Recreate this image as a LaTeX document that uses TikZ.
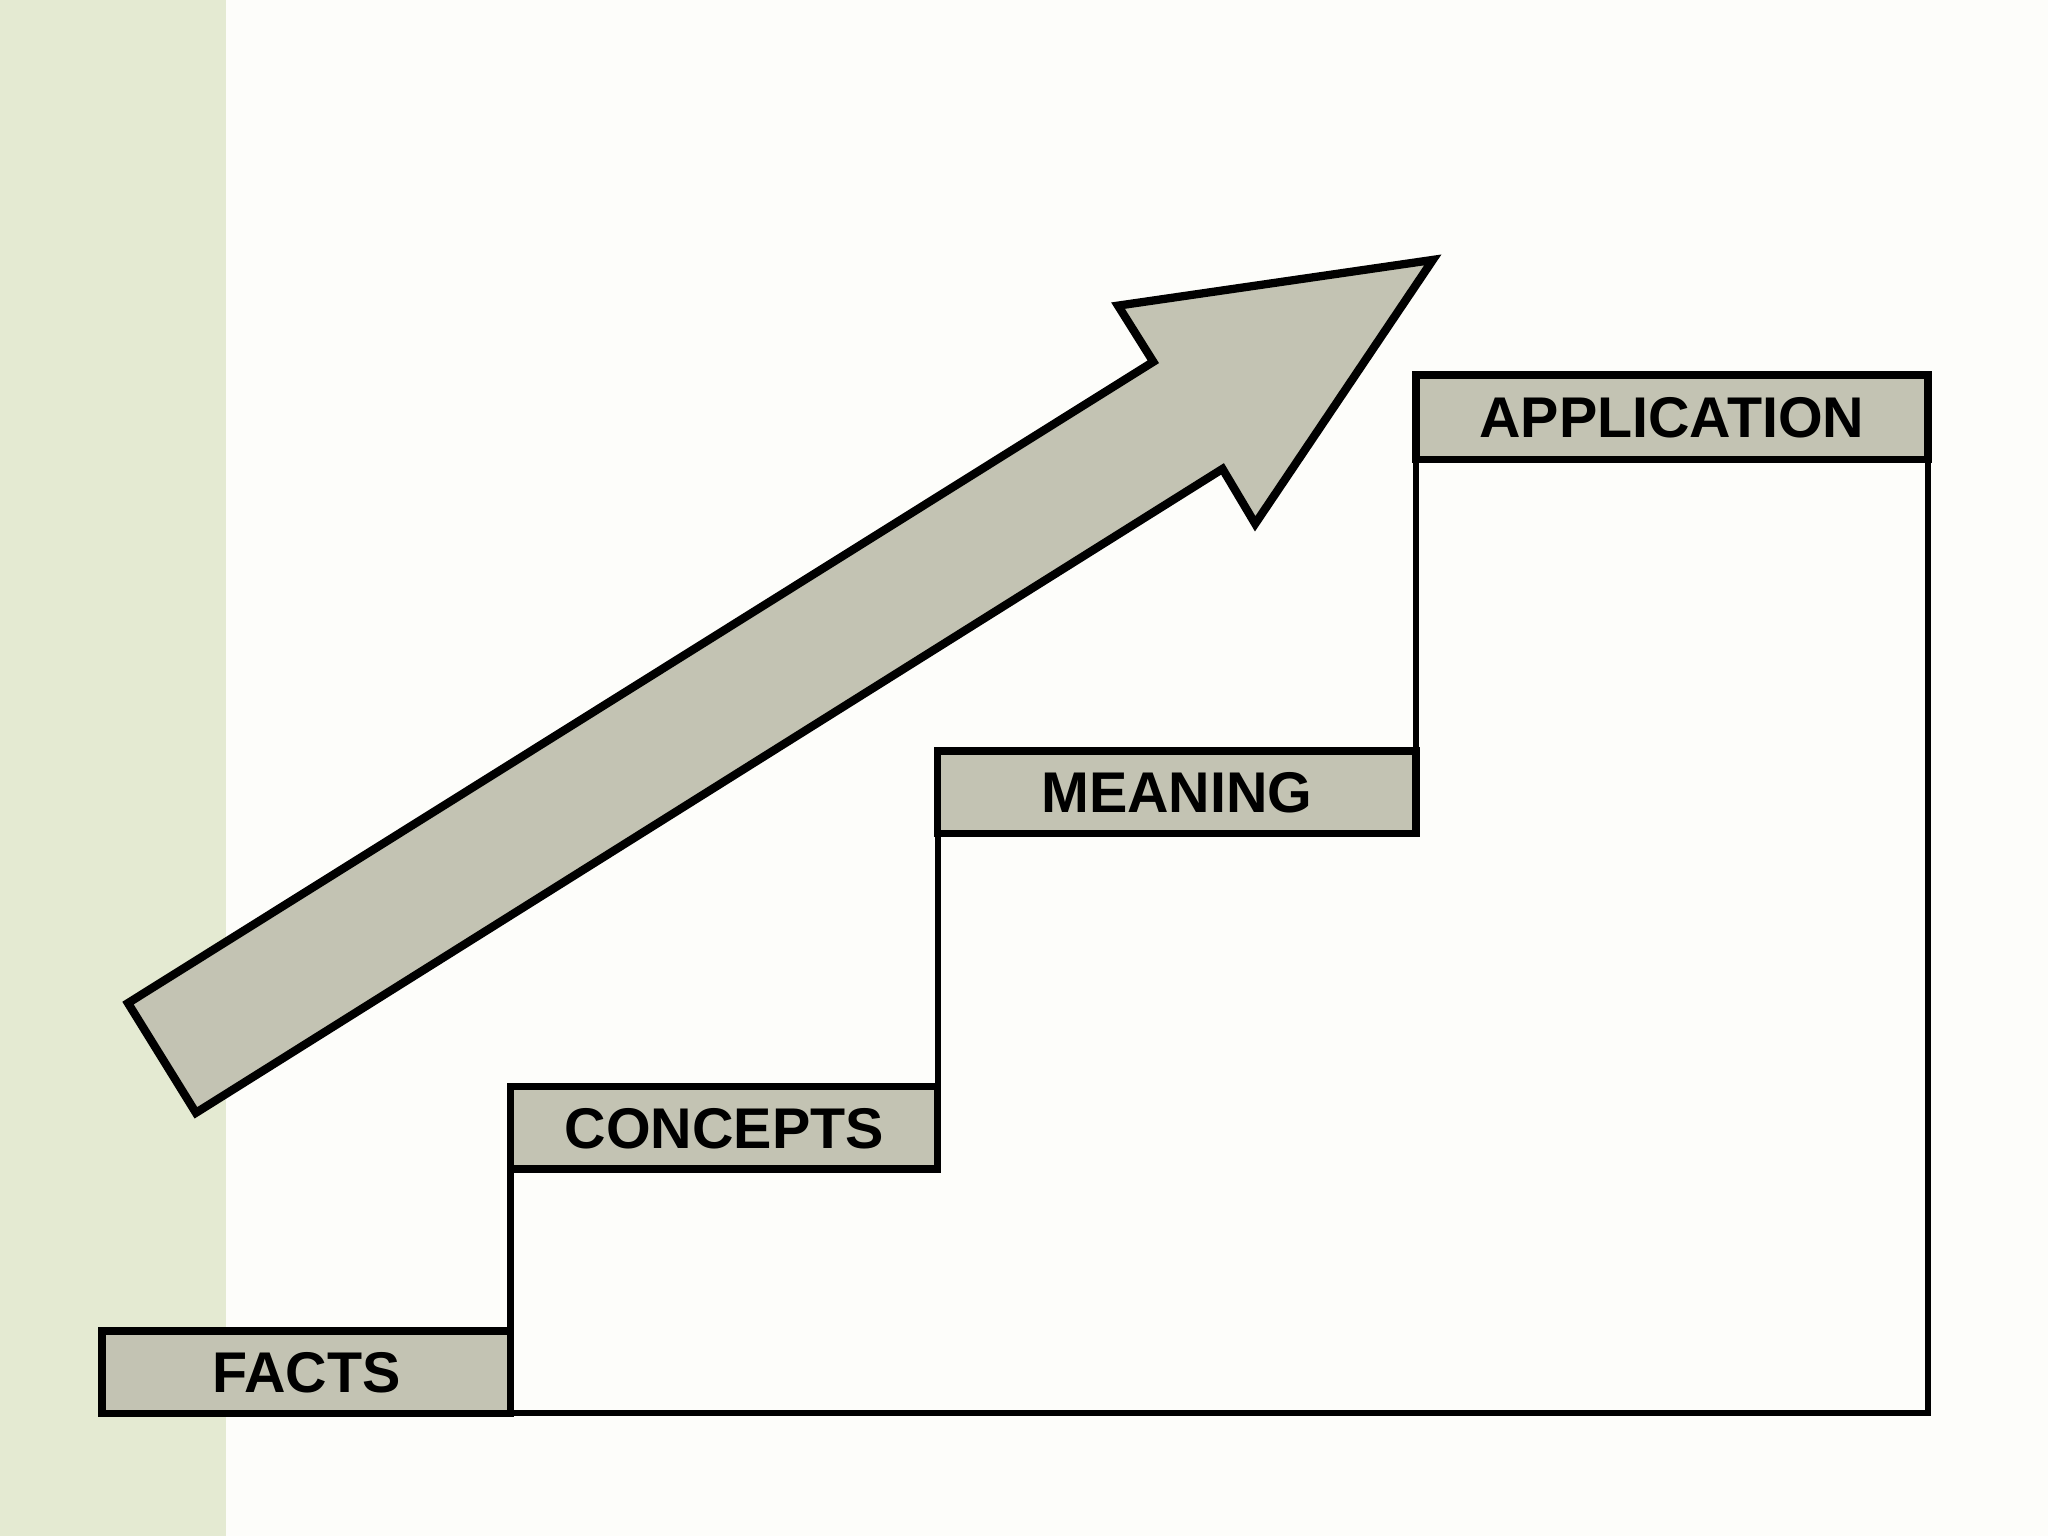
\documentclass[tikz,border=0pt]{standalone}
\usepackage{fontspec}
\setmainfont{Liberation Sans}
\definecolor{strip}{HTML}{E4EAD2}
\definecolor{boxfill}{HTML}{C3C3B3}
\definecolor{bg}{HTML}{FDFDFA}
\begin{document}
\begin{tikzpicture}[x=0.01cm,y=-0.01cm,
  stepbox/.style={draw=black,line width=1.6pt,fill=boxfill},
  lbl/.style={font=\fontsize{12.5}{14}\selectfont\bfseries},
  outline/.style={draw=black,line width=1.4pt}]
\useasboundingbox (0,0) rectangle (1568,1176);
\fill[bg] (0,0) rectangle (1568,1176);
\fill[strip] (0,0) rectangle (173,1176);
% outline of stairs
\draw[outline] (391,895) -- (391,1082) -- (1476,1082) -- (1476,352);
\draw[outline] (718,638) -- (718,832);
\draw[outline] (1084,352) -- (1084,575);
% boxes
\draw[stepbox] (78,1019) rectangle (391,1082);
\node[lbl] (facts) at (234.5,1051) {FACTS};
\draw[stepbox] (391,832) rectangle (718,895);
\node[lbl] (concepts) at (554.5,864) {CONCEPTS};
\draw[stepbox] (718,575) rectangle (1084,638);
\node[lbl] (meaning) at (901,607) {MEANING};
\draw[stepbox] (1084,287) rectangle (1476,352);
\node[lbl] (application) at (1280,320) {APPLICATION};
% arrow
\draw[fill=boxfill,line width=1.8pt,line join=miter]
 (98,768) -- (883,277) -- (856,234) -- (1097,199) -- (961,401) -- (936,359) -- (150,852) -- cycle;
\end{tikzpicture}
\end{document}
